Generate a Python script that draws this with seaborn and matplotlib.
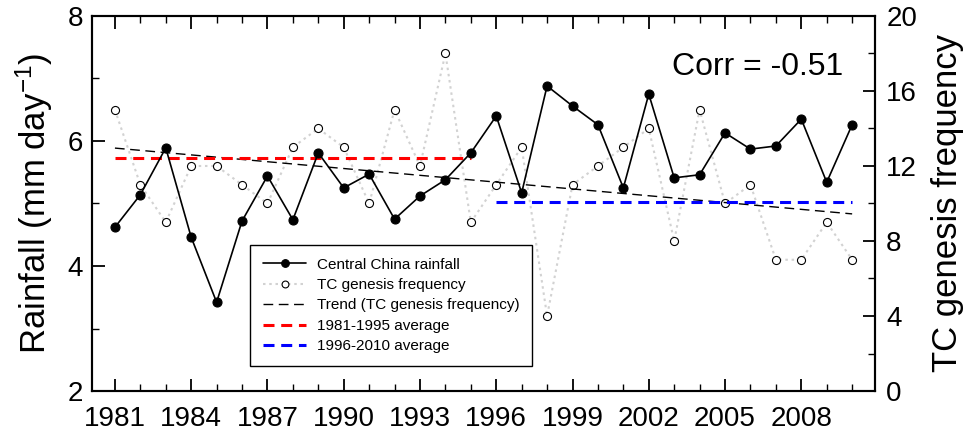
import matplotlib
matplotlib.use("Agg")
import matplotlib.pyplot as plt
import seaborn as sns

# =====================================================================
# DATOS
# =====================================================================
years = list(range(1981, 2011))
rainfall = [4.62, 5.14, 5.89, 4.46, 3.42, 4.72, 5.44, 4.74, 5.81, 5.25,
            5.47, 4.75, 5.12, 5.38, 5.81, 6.40, 5.17, 6.88, 6.56, 6.26,
            5.25, 6.75, 5.41, 5.46, 6.13, 5.87, 5.92, 6.35, 5.34, 6.26]
tc_freq = [15, 11, 9, 12, 12, 11, 10, 13, 14, 13,
           10, 15, 12, 18, 9, 11, 13, 4, 11, 12,
           13, 14, 8, 15, 10, 11, 7, 7, 9, 7]

period_early = [1981, 1995]
period_late = [1996, 2010]
avg_early = 12.45
avg_late = 10.1

labels = ['Central China rainfall', 'TC genesis frequency',
          'Trend (TC genesis frequency)', '1981-1995 average', '1996-2010 average']
corr_text = 'Corr = -0.51'

# =====================================================================
# ESTILO
# =====================================================================
sns.set_style('ticks')
plt.rcParams['font.family'] = ['Liberation Sans', 'DejaVu Sans']
plt.rcParams['mathtext.fontset'] = 'custom'
plt.rcParams['mathtext.rm'] = 'Liberation Sans'
plt.rcParams['mathtext.default'] = 'regular'
for k in ['text.color', 'axes.labelcolor', 'xtick.color', 'ytick.color', 'axes.edgecolor']:
    plt.rcParams[k] = 'black'

fig = plt.figure(figsize=(9.73, 4.38), dpi=100)
ax = fig.add_axes([0.0946, 0.1073, 0.8047, 0.8562])
ax2 = ax.twinx()

# =====================================================================
# SERIES
# =====================================================================
sns.lineplot(x=years, y=tc_freq, ax=ax2, color='#d2d2d2', lw=1.5,
             linestyle=(0, (1.2, 1.8)), marker='o', markersize=5.8,
             markerfacecolor='white', markeredgecolor='black',
             markeredgewidth=0.8, label=labels[1])
sns.regplot(x=years, y=tc_freq, ax=ax2, scatter=False, ci=None, truncate=True,
            color='black', label=labels[2],
            line_kws=dict(lw=1.0, linestyle=(0, (7, 4))))
sns.lineplot(x=period_early, y=[avg_early] * 2, ax=ax2, color='red', lw=2.2,
             linestyle=(0, (3.6, 2.2)), label=labels[3])
sns.lineplot(x=period_late, y=[avg_late] * 2, ax=ax2, color='blue', lw=2.2,
             linestyle=(0, (3.6, 2.2)), label=labels[4])

sns.lineplot(x=years, y=rainfall, ax=ax, color='black', lw=1.2,
             marker='o', markersize=6.5, markerfacecolor='black',
             markeredgecolor='black', markeredgewidth=0.8, label=labels[0])

ax.set_zorder(ax2.get_zorder() + 1)
ax.patch.set_visible(False)

# =====================================================================
# EJES
# =====================================================================
ax.set_xlim(1980.1, 2010.9)
ax.set_xticks(range(1981, 2010, 3))
ax.set_xticks(years, minor=True)
ax.set_ylim(2, 8)
ax.set_yticks([2, 4, 6, 8])
ax.set_yticks([3, 5, 7], minor=True)
ax2.set_ylim(0, 20)
ax2.set_yticks(range(0, 21, 4))
ax2.set_yticks(range(2, 20, 4), minor=True)

ax.tick_params(axis='both', which='both', direction='in', top=True, right=False,
               color='black', labelcolor='black')
ax.tick_params(which='major', length=9, width=1.3)
ax.tick_params(which='minor', length=5, width=1.0)
ax.tick_params(axis='x', which='major', pad=11)
ax.tick_params(axis='y', which='major', pad=6.5)
ax2.tick_params(axis='y', which='both', direction='in', color='black', labelcolor='black')
ax2.tick_params(which='major', length=9, width=1.3, pad=8)
ax2.tick_params(which='minor', length=5, width=1.0)

for a in (ax, ax2):
    for lab in a.get_xticklabels() + a.get_yticklabels():
        lab.set_fontsize(20)
    for sp in a.spines.values():
        sp.set_visible(True)
        sp.set_linewidth(1.5)
        sp.set_color('black')

ax.set_xlabel('')
ax.set_ylabel('Rainfall (mm day$^{-1}$)', fontsize=25, labelpad=9)
ax2.set_ylabel('TC genesis frequency', fontsize=25, labelpad=10)

ax.text(0.959, 0.864, corr_text, transform=ax.transAxes, ha='right',
        va='center', fontsize=23)

# =====================================================================
# LEYENDA
# =====================================================================
h1, l1 = ax.get_legend_handles_labels()
h2, l2 = ax2.get_legend_handles_labels()
if ax2.get_legend() is not None:
    ax2.get_legend().remove()
leg = ax.legend(h1 + h2, l1 + l2, loc='lower left', bbox_to_anchor=(0.202, 0.066),
                borderaxespad=0, frameon=True, fancybox=False, edgecolor='black',
                framealpha=1, fontsize=11, handlelength=2.8, handletextpad=0.7,
                labelspacing=0.42, borderpad=0.85, markerscale=0.85)
leg.get_frame().set_linewidth(1.0)

fig.savefig('out.png', dpi=100)
